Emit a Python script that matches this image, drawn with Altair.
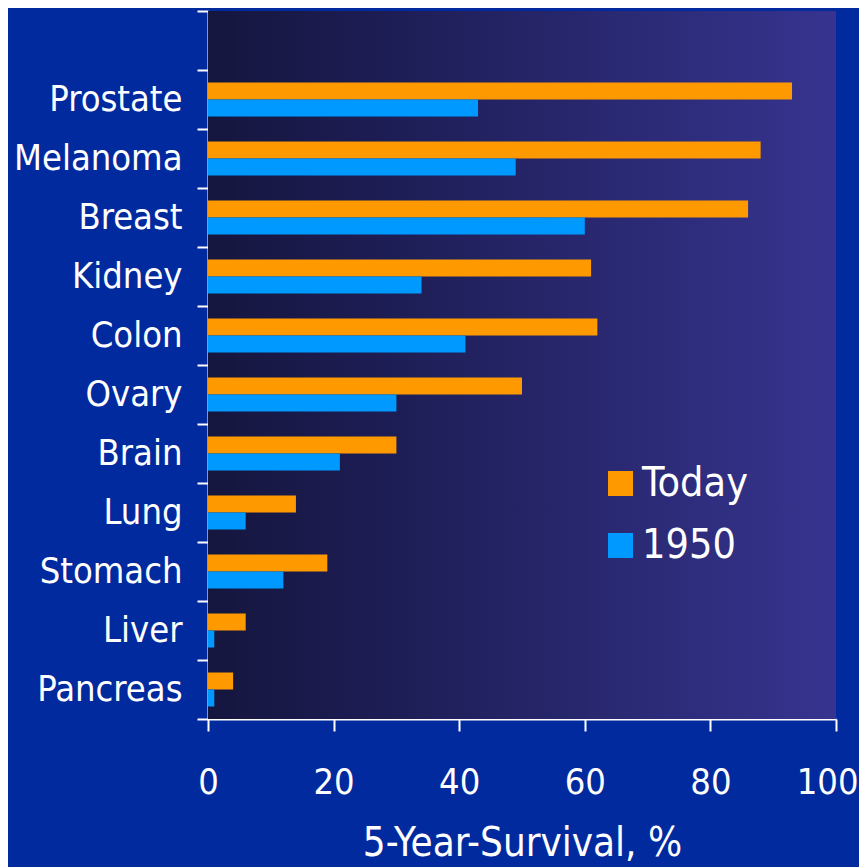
import altair as alt
import pandas as pd

cancers = ["Prostate", "Melanoma", "Breast", "Kidney", "Colon", "Ovary",
           "Brain", "Lung", "Stomach", "Liver", "Pancreas"]
today = [93, 88, 86, 61, 62, 50, 30, 14, 19, 6, 4]
y1950 = [43, 49, 60, 34, 41, 30, 21, 6, 12, 1, 1]
series = ["Today", "1950"]
colors = ["#FF9900", "#0099FF"]
x_ticks = [0, 20, 40, 60, 80, 100]

rows = []
for c, t, o in zip(cancers, today, y1950):
    rows.append({"cancer": c, "series": "Today", "value": t})
    rows.append({"cancer": c, "series": "1950", "value": o})
df = pd.DataFrame(rows)

FONT = "DejaVu Sans Condensed, sans-serif"
W, H = 628, 708
y_domain = [" "] + cancers

bg = alt.Chart(pd.DataFrame({"x0": [0], "x1": [100]})).mark_rect(
    color=alt.LinearGradient(
        gradient="linear", x1=0, x2=1, y1=0, y2=0,
        stops=[alt.GradientStop(color="#15163E", offset=0),
               alt.GradientStop(color="#1C1C52", offset=0.25),
               alt.GradientStop(color="#36348F", offset=1)],
    )
).encode(
    x=alt.X("x0:Q", scale=alt.Scale(domain=[0, 100], nice=False, zero=True)),
    x2="x1:Q",
    y=alt.value(0),
    y2=alt.value(H),
)

bars = alt.Chart(df).mark_bar().encode(
    x=alt.X("value:Q",
            scale=alt.Scale(domain=[0, 100], nice=False),
            axis=alt.Axis(values=x_ticks, title="5-Year-Survival, %",
                          domainColor="white", domainWidth=2,
                          tickColor="white", tickWidth=2, tickSize=12,
                          labelColor="white", labelFont=FONT, labelFontSize=36,
                          labelPadding=34, labelFlush=False,
                          labelAlign={"condition": {"test": "datum.value == 100", "value": "right"},
                                      "value": "center"},
                          labelOffset={"condition": {"test": "datum.value == 100", "value": 22},
                                       "value": 0},
                          titleColor="white", titleFont=FONT, titleFontSize=40,
                          titleFontWeight="normal", titleBaseline="alphabetic",
                          titleY=136, grid=False)),
    y=alt.Y("cancer:N",
            scale=alt.Scale(domain=y_domain, paddingInner=0, paddingOuter=0),
            axis=alt.Axis(title=None, tickBand="extent",
                          domainColor="white", domainWidth=2,
                          tickColor="white", tickWidth=2, tickSize=11,
                          labelColor="white", labelFont=FONT, labelFontSize=36,
                          labelLimit=400, labelPadding=15, grid=False)),
    yOffset=alt.YOffset("series:N",
                        scale=alt.Scale(domain=series, paddingInner=0, paddingOuter=0.735)),
    color=alt.Color("series:N",
                    scale=alt.Scale(domain=series, range=colors),
                    legend=alt.Legend(title=None, orient="none", legendX=392, legendY=452,
                                      symbolType="square", symbolSize=625,
                                      symbolStrokeWidth=0, symbolOpacity=1,
                                      labelColor="white", labelFont=FONT,
                                      labelFontSize=41, labelOffset=1,
                                      rowPadding=20)),
)

chart = alt.layer(bg, bars).properties(
    width=W, height=H,
    background="#022A9F",
    padding={"left": 200, "top": 3, "right": 23, "bottom": 148},
    autosize=alt.AutoSizeParams(type="none"),
).configure_view(stroke=None)

chart.save("out.html", embed_options={"renderer": "svg", "actions": False})
